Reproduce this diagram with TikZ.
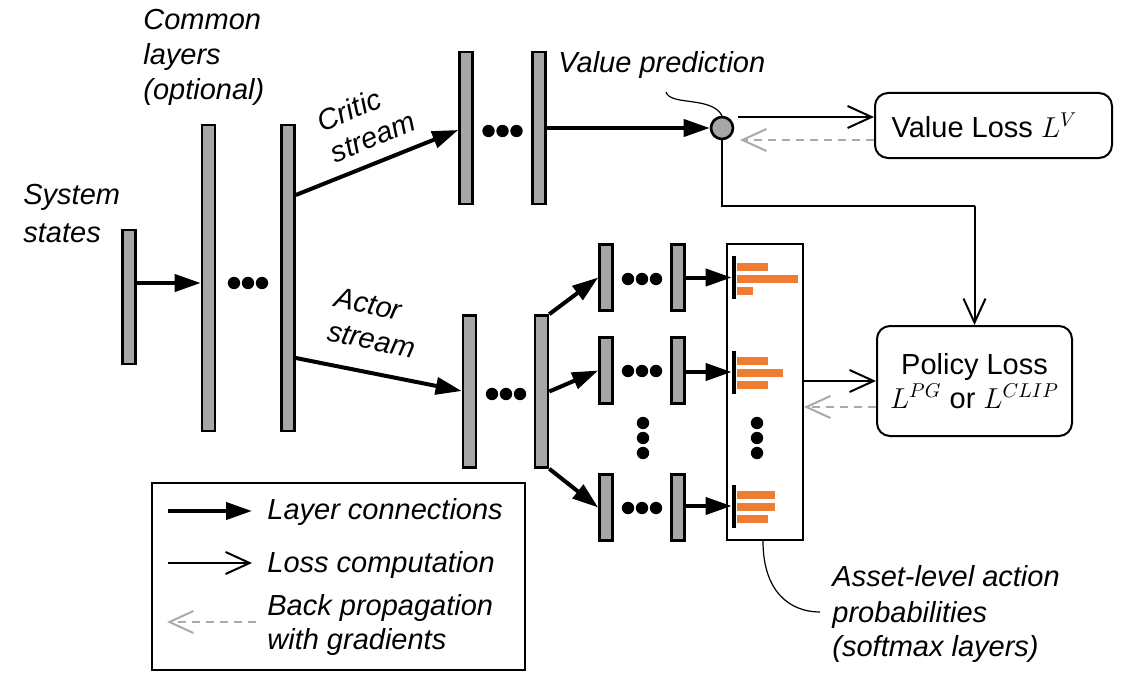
\documentclass[tikz,border=0pt]{standalone}
\usepackage{fontspec}
\setmainfont{Liberation Sans}
\usetikzlibrary{arrows.meta}
\definecolor{layergray}{HTML}{A6A6A6}
\definecolor{barorange}{HTML}{ED7D31}
\definecolor{backgray}{HTML}{AAAAAA}
\begin{document}
\begin{tikzpicture}[x=0.5pt,y=-0.5pt,
  every node/.style={font=\fontsize{14.5}{17}\selectfont},
  layer/.style={draw=black, fill=layergray, line width=1.3pt, minimum width=6.5pt, inner sep=0pt},
  conn/.style={line width=2pt, -{Triangle[length=13pt,width=8.5pt]}},
  loss/.style={line width=1pt, -{Straight Barb[length=12pt,width=11pt]}},
  back/.style={line width=1pt, draw=backgray, dash pattern=on 4pt off 3pt, -{Straight Barb[length=12pt,width=11pt]}},
  lossbox/.style={draw, rounded corners=6.5pt, line width=1pt, inner sep=0pt},
  lbl/.style={font=\fontsize{14.5}{17}\selectfont\itshape, inner sep=0pt, anchor=base west},
  rlbl/.style={font=\fontsize{14.5}{17}\selectfont\itshape, inner sep=0pt, anchor=center, align=left},
  smbar/.style={fill=black, minimum width=2pt, minimum height=21.5pt, inner sep=0pt},
  callout/.style={line width=0.6pt},
  dot/.style={fill=black}
]
\useasboundingbox (0,0) rectangle (1124,674);

% ---------- layers ----------
\node[layer, minimum height=67pt] (in) at (129,297) {};
\node[layer, minimum height=153pt] (c1) at (208.5,278) {};
\node[layer, minimum height=153pt] (c2) at (288,278) {};
\node[layer, minimum height=76pt] (k1) at (466,128) {};
\node[layer, minimum height=76pt] (k2) at (539,128) {};
\node[layer, minimum height=76pt] (a1) at (469.5,391.5) {};
\node[layer, minimum height=76pt] (a2) at (541.5,391.5) {};
\node[layer, minimum height=33pt] (r1a) at (606,277.5) {};
\node[layer, minimum height=33pt] (r1b) at (678,277.5) {};
\node[layer, minimum height=33pt] (r2a) at (606,370.5) {};
\node[layer, minimum height=33pt] (r2b) at (678,370.5) {};
\node[layer, minimum height=33pt] (r3a) at (606,507.5) {};
\node[layer, minimum height=33pt] (r3b) at (678,507.5) {};

% value prediction
\node[circle, draw=black, fill=layergray, line width=1.3pt, minimum size=11pt, inner sep=0pt] (vp) at (722,128) {};

% softmax box
\node[draw, line width=1pt, minimum width=38pt, minimum height=148pt, inner sep=0pt] (smbox) at (765,392) {};
\node[smbar] (s1) at (734,277.5) {};
\node[smbar] (s2) at (734,372) {};
\node[smbar] (s3) at (734,506) {};
% orange bars
\fill[barorange] (737,262.5) rectangle (768,270.5);
\fill[barorange] (737,274.5) rectangle (798,282.5);
\fill[barorange] (737,286.5) rectangle (753,294.5);
\fill[barorange] (737,357) rectangle (768,365);
\fill[barorange] (737,369) rectangle (783,377);
\fill[barorange] (737,381) rectangle (768,389);
\fill[barorange] (737,491) rectangle (775,499);
\fill[barorange] (737,503) rectangle (775,511);
\fill[barorange] (737,515) rectangle (768,523);

% loss boxes
\node[lossbox, minimum width=118.5pt, minimum height=32.5pt] (vbox) at (993.5,125.5) {Value Loss $L^{V}$\hspace*{9pt}};
\node[lossbox, minimum width=97.5pt, minimum height=55pt, align=center] (pbox) at (974.5,381) {Policy Loss\\$L^{PG}$ or $L^{CLIP}$};

% ---------- dots ----------
\foreach \cx/\cy in {248/283, 502.5/131, 506/394, 642/279, 642/371, 642/508}
  \foreach \d in {-14,0,14}
    \fill[dot] (\cx+\d,\cy) circle[radius=3.1pt];
\foreach \cx in {643,757}
  \foreach \cy in {423,438,453}
    \fill[dot] (\cx,\cy) circle[radius=3.1pt];

% ---------- layer connections ----------
\draw[conn] (in.east |- 0,283) -- (c1.west |- 0,283);
\draw[conn] (c2.east |- 0,195) -- (k1.west |- 0,130);
\draw[conn] (c2.east |- 0,358) -- (a1.west |- 0,391);
\draw[conn] (k2.east) -- (vp.west);
\draw[conn] (a2.north east) -- (r1a.west);
\draw[conn] (a2.east) -- (r2a.west);
\draw[conn] (a2.south east) -- (r3a.west);
\draw[conn] (r1b.east) -- (s1.west);
\draw[conn] (r2b.east |- s2.west) -- (s2.west);
\draw[conn] (r3b.east |- s3.west) -- (s3.west);

% ---------- loss computation ----------
\coordinate (vpo) at (738,117);
\coordinate (vpi) at (740,140);
\coordinate (turn) at (974.5,206);
\draw[loss] (vpo) -- (vbox.west |- vpo);
\draw[back] (vbox.west |- vpi) -- (vpi);
\draw[line width=1pt] (vp.south) |- (turn);
\draw[loss] (turn) -- (pbox.north);
\draw[loss] (smbox.east |- pbox.west) -- (pbox.west);
\draw[back] (pbox.west |- 0,407) -- (smbox.east |- 0,407);

% ---------- callouts ----------
\coordinate (vpc) at (666,92);
\draw[callout] (vpc) .. controls (670,106) and (712,96) .. (vp.north);
\coordinate (assetend) at (820,612);
\draw[callout] ([xshift=-1pt]smbox.south) .. controls (763,592) and (790,612) .. (assetend);

% ---------- labels ----------
\node[lbl] (t1) at (143,30) {Common};
\node[lbl] (t2) at (143,65) {layers};
\node[lbl] (t3) at (143,100) {(optional)};
\node[lbl] (t4) at (23,204) {System};
\node[lbl] (t5) at (23,242) {states};
\node[lbl] (t6) at (558,73) {Value prediction};
\node[rlbl, rotate=23] (t7) at (366,121) {Critic\\stream};
\node[rlbl, rotate=-12] (t9) at (375,323) {Actor\\stream};
\node[lbl] (t11) at (832,586) {Asset-level action};
\node[lbl] (t12) at (832,622) {probabilities};
\node[lbl] (t13) at (832,656) {(softmax layers)};

% ---------- legend ----------
\node[draw, line width=1.2pt, minimum width=186.5pt, minimum height=93.5pt, inner sep=0pt] (legend) at (338.5,576.5) {};
\coordinate (l1a) at (168,511); \coordinate (l1b) at (252,511);
\coordinate (l2a) at (168,563); \coordinate (l2b) at (252,563);
\coordinate (l3a) at (256,622); \coordinate (l3b) at (167,622);
\draw[conn] (l1a) -- (l1b);
\draw[loss] (l2a) -- (l2b);
\draw[back] (l3a) -- (l3b);
\node[lbl] (g1) at (267,519) {Layer connections};
\node[lbl] (g2) at (267,572) {Loss computation};
\node[lbl] (g3) at (267,615) {Back propagation};
\node[lbl] (g4) at (267,649) {with gradients};
\end{tikzpicture}
\end{document}
